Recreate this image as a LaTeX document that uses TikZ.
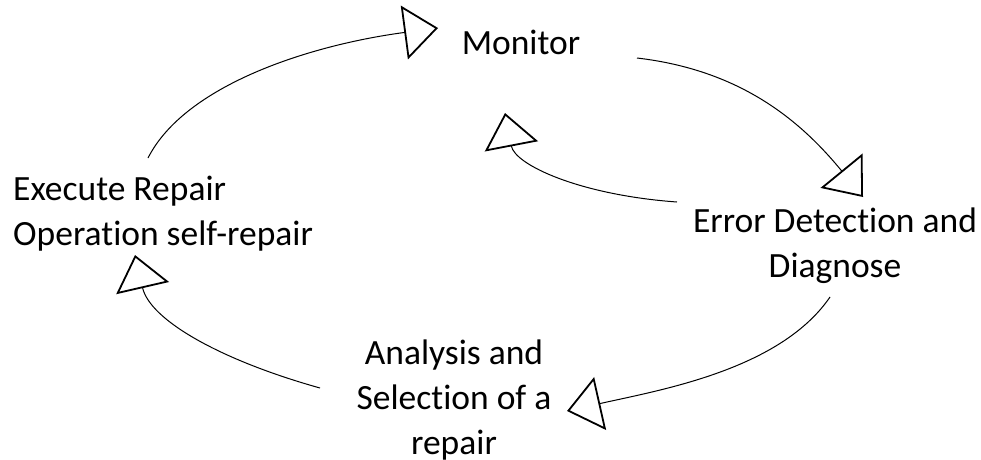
\documentclass[tikz,border=0pt]{standalone}
\usepackage{fontspec}
\setmainfont[Ligatures=NoCommon]{Carlito}
\usetikzlibrary{arrows.meta}
\begin{document}
\begin{tikzpicture}[x=1pt,y=-1pt,
  lbl/.style={inner sep=0pt, font=\fontsize{35.5}{45}\selectfont, align=center},
  conn/.style={line width=1pt, -{Triangle[open, length=34pt, width=54pt, line width=1.8pt]}}]
\useasboundingbox (0,0) rectangle (981,459);
\node[lbl] (mon) at (521,42) {Monitor};
\node[lbl, align=left, anchor=west] (exe) at (13,214) {Execute Repair\\Operation self-repair};
\node[lbl] (err) at (835,246) {Error Detection and\\Diagnose};
\node[lbl] (ana) at (454,400) {Analysis and\\Selection of a\\repair};
\coordinate (s1) at (148,158); \coordinate (e1) at (438,28);
\coordinate (s2) at (637,58);  \coordinate (e2) at (863,197);
\coordinate (s3) at (677,202); \coordinate (e3) at (505,113);
\coordinate (s4) at (830,297); \coordinate (e4) at (567,411);
\coordinate (s5) at (320,388); \coordinate (e5) at (135,255);
\draw[conn] (s1) .. controls (185,85) and (310,45) .. (e1);
\draw[conn] (s2) .. controls (740,70) and (800,120) .. (e2);
\draw[conn] (s3) .. controls (580,195) and (515,165) .. (e3);
\draw[conn] (s4) .. controls (780,370) and (660,390) .. (e4);
\draw[conn] (s5) .. controls (220,360) and (150,320) .. (e5);
\end{tikzpicture}
\end{document}
